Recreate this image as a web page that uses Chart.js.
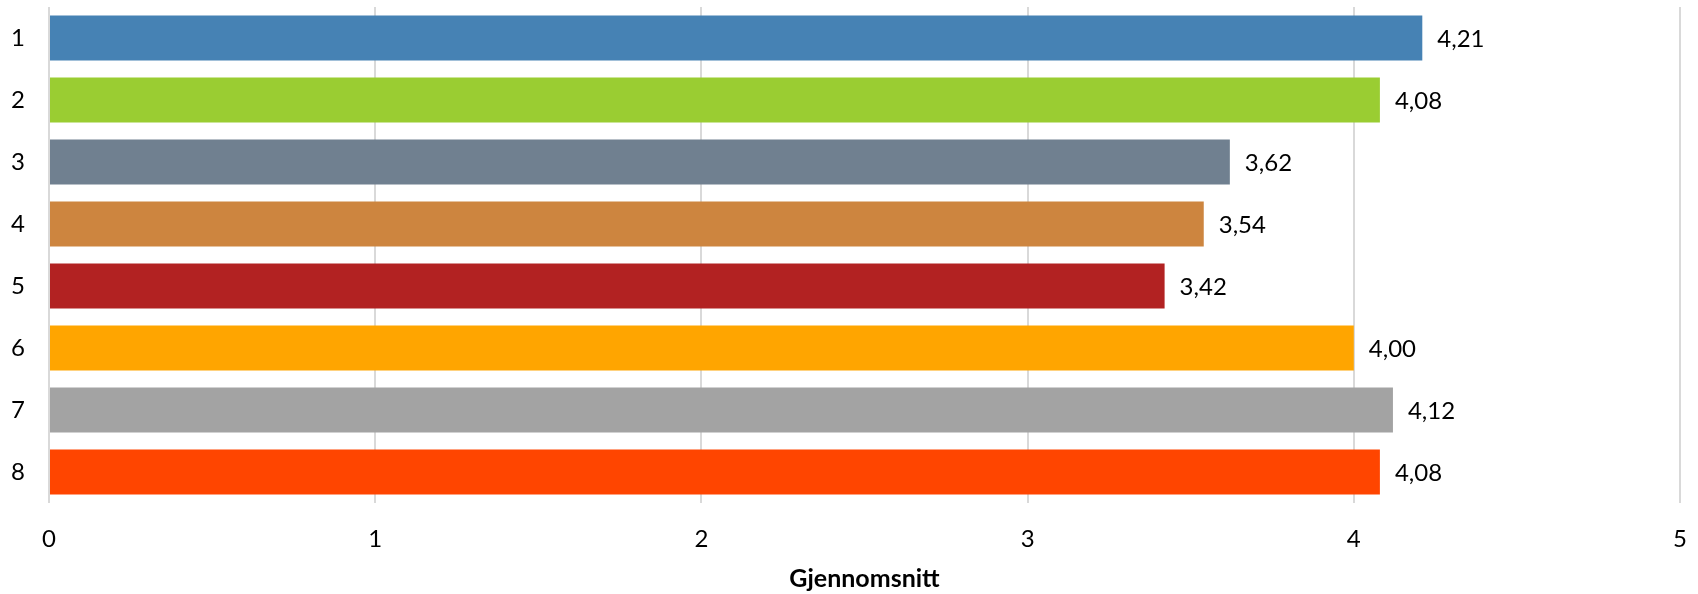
<!DOCTYPE html>
<html>
<head>
<meta charset="utf-8">
<script src="https://cdn.jsdelivr.net/npm/chart.js@4/dist/chart.umd.min.js"></script>
<style>
  html, body { margin: 0; padding: 0; background: #fff; }
  #wrap { width: 1698px; height: 594px; }
</style>
</head>
<body>
<div id="wrap"><canvas id="c" width="1698" height="594"></canvas></div>
<script>
const categories = ['1', '2', '3', '4', '5', '6', '7', '8'];
const values = [4.21, 4.08, 3.62, 3.54, 3.42, 4.00, 4.12, 4.08];
const valueLabels = ['4,21', '4,08', '3,62', '3,54', '3,42', '4,00', '4,12', '4,08'];
const barColors = ['#4682B4', '#9ACD32', '#708090', '#CD853F', '#B22222', '#FFA500', '#A3A3A3', '#FF4500'];
const xTicks = [0, 1, 2, 3, 4, 5];
const axisTitle = 'Gjennomsnitt';

const FONT = 'Lato, "Noto Sans", sans-serif';

const valueLabelPlugin = {
  id: 'valueLabels',
  afterDatasetsDraw(chart) {
    const ctx = chart.ctx;
    const meta = chart.getDatasetMeta(0);
    ctx.save();
    ctx.font = '24px ' + FONT;
    ctx.fillStyle = '#000';
    ctx.textAlign = 'left';
    ctx.textBaseline = 'middle';
    meta.data.forEach((bar, i) => {
      ctx.fillText(valueLabels[i], bar.x + 15, bar.y + 1);
    });
    ctx.restore();
  }
};

new Chart(document.getElementById('c'), {
  type: 'bar',
  data: {
    labels: categories,
    datasets: [{
      data: values,
      backgroundColor: barColors,
      borderWidth: 0,
      categoryPercentage: 1,
      barPercentage: 0.726
    }]
  },
  options: {
    indexAxis: 'y',
    responsive: false,
    animation: false,
    devicePixelRatio: 1,
    layout: { padding: { top: 7, right: 18, bottom: 0, left: 0 } },
    plugins: {
      legend: { display: false },
      tooltip: { enabled: false }
    },
    scales: {
      x: {
        min: 0,
        max: 5,
        afterBuildTicks(scale) { scale.ticks = xTicks.map(v => ({ value: v })); },
        afterFit(scale) { scale.height = 91; scale.paddingLeft = 0; scale.paddingRight = 0; scale.paddingTop = 0; scale.paddingBottom = 0; },
        grid: { color: '#d9d9d9', lineWidth: 2, drawTicks: false },
        border: { display: false },
        ticks: {
          padding: 22,
          color: '#000',
          font: { family: FONT, size: 24 }
        },
        title: {
          display: true,
          text: axisTitle,
          color: '#000',
          font: { family: FONT, size: 25, weight: 'bold' },
          padding: { top: 0, bottom: 0 }
        }
      },
      y: {
        afterFit(scale) { scale.width = 49; scale.paddingLeft = 0; scale.paddingRight = 0; scale.paddingTop = 0; scale.paddingBottom = 0; },
        grid: { display: false, drawTicks: false },
        border: { display: false },
        ticks: {
          padding: 24,
          color: '#000',
          font: { family: FONT, size: 24 }
        }
      }
    }
  },
  plugins: [valueLabelPlugin]
});
</script>
</body>
</html>
